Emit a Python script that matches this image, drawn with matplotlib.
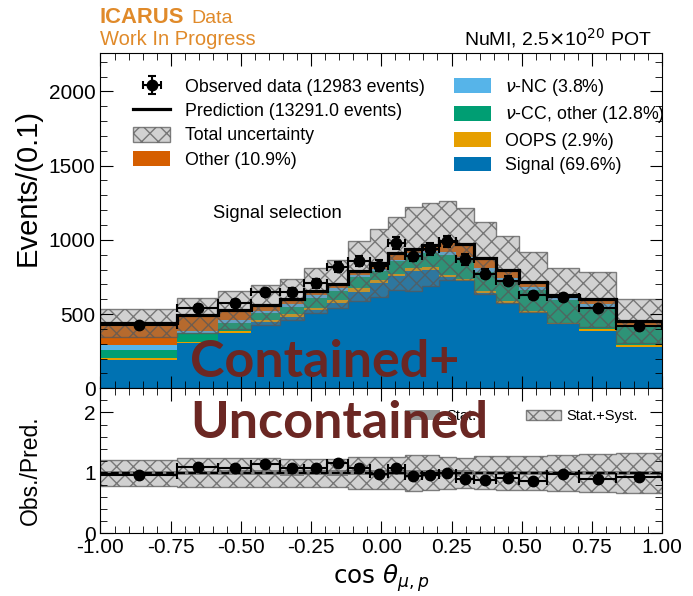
import numpy as np
import matplotlib.pyplot as plt
from matplotlib.patches import Patch
from matplotlib.lines import Line2D

plt.rcParams['font.family'] = ['Liberation Sans', 'DejaVu Sans']
plt.rcParams['hatch.linewidth'] = 1.0

# cos(theta_mu,p) bin edges (variable width)
edges = [-1.0, -0.728, -0.580, -0.465, -0.362, -0.275, -0.192, -0.117, -0.039,
         0.022, 0.083, 0.145, 0.204, 0.267, 0.331, 0.409, 0.490, 0.589, 0.703, 0.837, 1.0]

# stacked prediction, Events/(0.1)
signal = [191, 303, 375, 445, 483, 528, 577, 651, 712, 753, 793, 798, 748, 726, 645, 577, 510, 431, 389, 281]
oops   = [11, 11, 13, 15, 16, 16, 18, 23, 20, 18, 16, 18, 16, 13, 13, 14, 11, 11, 13, 11]
nu_cc  = [56, 61, 50, 46, 51, 64, 60, 74, 56, 83, 90, 94, 135, 126, 128, 128, 142, 153, 137, 123]
nu_nc  = [34, 13, 22, 15, 18, 20, 22, 18, 16, 11, 11, 16, 22, 18, 23, 22, 22, 18, 29, 12]
other  = [148, 104, 68, 41, 32, 30, 23, 24, 41, 43, 30, 42, 74, 87, 67, 59, 33, 12, 32, 25]

# observed data, Events/(0.1)
data = [427, 539, 573, 647, 647, 708, 816, 858, 825, 978, 892, 939, 989, 870, 771, 726, 625, 614, 544, 422]

# relative total (stat+syst) uncertainty on the prediction
tot_unc = [0.22, 0.24, 0.24, 0.24, 0.23, 0.23, 0.23, 0.26, 0.27, 0.27,
           0.30, 0.29, 0.27, 0.25, 0.275, 0.28, 0.28, 0.30, 0.31, 0.33]

labels = ['Signal (69.6%)', 'OOPS (2.9%)', r'$\nu$-CC, other (12.8%)', r'$\nu$-NC (3.8%)', 'Other (10.9%)']
colors = ['#0072B2', '#E69F00', '#009E73', '#56B4E9', '#D55E00']

edges = np.array(edges)
width = np.diff(edges)
centers = 0.5 * (edges[:-1] + edges[1:])
comps = [np.array(c, float) for c in (signal, oops, nu_cc, nu_nc, other)]
pred = np.sum(comps, axis=0)
data = np.array(data, float)
tot_unc = np.array(tot_unc)

# counts -> stat errors, scaled back to Events/(0.1)
scale = width / 0.1
data_err = np.sqrt(data * scale) / scale
stat_rel = 1 / np.sqrt(pred * scale)

band_face = (0.5, 0.5, 0.5, 0.36)
band_edge = (0.35, 0.35, 0.35, 0.75)

fig = plt.figure(figsize=(6.93, 5.96), dpi=100)
ax = fig.add_axes([0.145, 0.3485, 0.8105, 0.563])
rax = fig.add_axes([0.145, 0.1052, 0.8105, 0.2433])

bottom = np.zeros(len(pred))
patches = []
for vals, lab, c in zip(comps, labels, colors):
    ax.stairs(bottom + vals, edges, baseline=bottom.copy(), fill=True, color=c, lw=0)
    patches.append(Patch(facecolor=c, label=lab))
    bottom += vals

ax.stairs(pred * (1 + tot_unc), edges, baseline=pred * (1 - tot_unc), fill=True,
          facecolor=band_face, edgecolor=band_edge, hatch='xx', lw=1.0)
ax.stairs(pred, edges, baseline=None, color='k', lw=2.3)
dat = ax.errorbar(centers, data, xerr=width / 2, yerr=data_err, fmt='o', color='k',
                  ms=7.5, elinewidth=1.5, capsize=3, capthick=1.5)

band_patch = Patch(facecolor=band_face, edgecolor=band_edge, hatch='xx', label='Total uncertainty')
pred_line = Line2D([], [], color='k', lw=2.3)
handles = [dat, pred_line, band_patch, patches[4], patches[3], patches[2], patches[1], patches[0]]
leg_labels = ['Observed data (12983 events)', 'Prediction (13291.0 events)', 'Total uncertainty',
              labels[4], labels[3], labels[2], labels[1], labels[0]]
ax.legend(handles, leg_labels, ncol=2, loc='upper left', bbox_to_anchor=(0.042, 0.955),
          frameon=False, fontsize=12.8, borderpad=0, labelspacing=0.38, handlelength=2.1,
          handleheight=0.9, handletextpad=0.8, columnspacing=1.65)

ax.text(0.2, 0.52, 'Signal selection', transform=ax.transAxes, fontsize=13.2, va='center')

ax.set_xlim(-1, 1)
ax.set_ylim(0, 2260)
ax.set_yticks([0, 500, 1000, 1500, 2000])
ax.set_yticks(np.arange(0, 2260, 100), minor=True)
ax.set_ylabel('Events/(0.1)', fontsize=21)
ax.yaxis.set_label_coords(-0.104, 0.597)

# ratio panel
ratio = data / pred
ratio_err = data_err / pred
rax.stairs(1 + tot_unc, edges, baseline=1 - tot_unc, fill=True,
           facecolor=band_face, edgecolor=band_edge, hatch='xx', lw=1.0)
rax.stairs(1 + stat_rel, edges, baseline=1 - stat_rel, fill=True, color=(0.3, 0.3, 0.3, 0.6), lw=0)
rax.axhline(1, color='k', ls='--', lw=1.5)
rax.errorbar(centers, ratio, xerr=width / 2, yerr=ratio_err, fmt='o', color='k',
             ms=7.5, elinewidth=1.5, capsize=3, capthick=1.5)
rax.legend([Patch(facecolor=(0.3, 0.3, 0.3, 0.6)), band_patch], ['Stat.', 'Stat.+Syst.'],
           ncol=2, loc='upper right', bbox_to_anchor=(0.97, 0.905), frameon=False,
           fontsize=10.5, borderpad=0, handlelength=2.4, handletextpad=0.4, columnspacing=3.4)
rax.set_xlim(-1, 1)
rax.set_ylim(0, 2.4)
rax.set_yticks([0, 1, 2])
rax.set_yticks(np.arange(0, 2.41, 0.2), minor=True)
rax.set_xticks(np.arange(-1, 1.01, 0.25))
rax.set_xticks(np.arange(-1, 1.01, 0.05), minor=True)
rax.xaxis.set_major_formatter(plt.FormatStrFormatter('%.2f'))
rax.set_xlabel(r'$\cos\,\theta_{\mu,p}$', fontsize=17.7)
rax.set_ylabel('Obs./Pred.', fontsize=16.5)
rax.yaxis.set_label_coords(-0.104, 0.437)

ax.set_xticks(np.arange(-1, 1.01, 0.25))
ax.set_xticks(np.arange(-1, 1.01, 0.05), minor=True)
for a in (ax, rax):
    a.tick_params(which='both', direction='in', top=True, right=True, labelsize=15)
    a.tick_params(which='major', length=9)
    a.tick_params(which='minor', length=5)
ax.tick_params(labelbottom=False)

# header texts
orange = '#E08A2A'
fig.text(0.1443, 0.961, 'ICARUS', color=orange, fontsize=15.8, fontweight='bold')
fig.text(0.2763, 0.961, 'Data', color=orange, fontsize=14)
fig.text(0.1443, 0.9245, 'Work In Progress', color=orange, fontsize=14.5)
fig.text(0.94, 0.9245, r'NuMI, 2.5$\times$10$^{20}$ POT', fontsize=14, ha='right')

# overlay annotation
brown = '#6B2723'
fig.text(0.274, 0.391, 'Contained+', color=brown, fontsize=37.5, fontweight='bold',
         family='Lato', va='center')
fig.text(0.274, 0.289, 'Uncontained', color=brown, fontsize=37.5, fontweight='bold',
         family='Lato', va='center')

fig.savefig('out.png', dpi=100)
